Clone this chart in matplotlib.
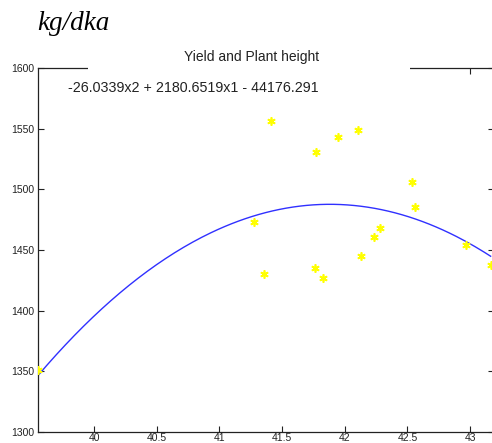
import numpy as np
import matplotlib
matplotlib.use("Agg")
import matplotlib.pyplot as plt
from matplotlib.patches import Rectangle

# Data (plant height vs yield)
height = [39.554, 41.276, 41.356, 41.415, 41.760, 41.773, 41.826, 41.948,
          42.107, 42.128, 42.229, 42.280, 42.537, 42.561, 42.964, 43.163]
yield_ = [1351.0, 1473.1, 1430.5, 1556.1, 1434.9, 1530.8, 1426.9, 1543.4,
          1548.6, 1444.8, 1460.5, 1467.9, 1506.0, 1485.7, 1453.9, 1437.4]
coef = [-26.0339, 2180.6519, -44176.291]
x_ticks = [40, 40.5, 41, 41.5, 42, 42.5, 43]
x_ticklabels = ["40", "40.5", "41", "41.5", "42", "42.5", "43"]
y_ticks = [1300, 1350, 1400, 1450, 1500, 1550, 1600]

W, H = 492, 443
fig = plt.figure(figsize=(W / 100, H / 100), dpi=100)
fig.patch.set_facecolor("white")

left, right, top, bottom = 38, 494, 68, 432
ax = fig.add_axes([left / W, (H - bottom) / H, (right - left) / W, (bottom - top) / H])

xc = np.linspace(min(height), max(height), 200)
yc = np.polyval(coef, xc)
ax.plot(xc, yc, color="#3030ff", lw=1.0, zorder=2)
ax.plot(height, yield_, linestyle="none", marker=(6, 2, 0), markersize=6,
        markeredgecolor="#ffff00", markeredgewidth=1.2, color="#ffff00", zorder=3)

ax.set_xlim(39.553, 43.19)
ax.set_ylim(1300, 1600)
ax.set_xticks(x_ticks)
ax.set_xticklabels(x_ticklabels)
ax.set_yticks(y_ticks)
ax.tick_params(direction="in", length=4, width=0.8, top=True, right=True,
               labelsize=7.5, colors="#222222")
ax.tick_params(axis="x", pad=1)
ax.tick_params(axis="y", pad=3)
for lab in ax.get_xticklabels() + ax.get_yticklabels():
    lab.set_fontfamily("Liberation Sans")
for s in ax.spines.values():
    s.set_linewidth(0.9)
    s.set_color("#222222")

# white box covering the top spine behind title / equation
fig.patches.append(Rectangle((88 / W, (H - 100) / H), (410 - 88) / W, 56 / H,
                             transform=fig.transFigure, facecolor="white",
                             edgecolor="none", zorder=5))

fig.text(252 / W, (H - 57) / H, "Yield and Plant height", ha="center", va="center",
         fontsize=10, family="Liberation Sans", color="#222222", zorder=6)
fig.text(68 / W, (H - 88) / H, "-26.0339x2 + 2180.6519x1 - 44176.291", ha="left",
         va="center", fontsize=10.3, family="Liberation Sans", color="#222222", zorder=6)
fig.text(37 / W, (H - 23) / H, "kg/dka", ha="left", va="center", fontsize=19.5,
         family="Liberation Serif", style="italic", color="black", zorder=6)

fig.savefig("out.png", dpi=100, facecolor="white")
